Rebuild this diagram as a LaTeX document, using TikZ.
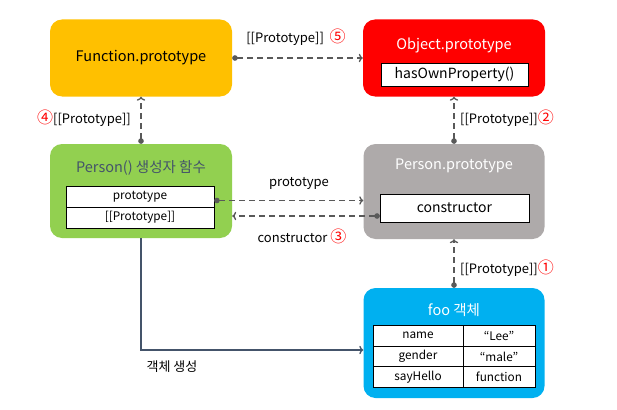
\documentclass[tikz,border=0pt]{standalone}
\usepackage{fontspec}
\setmainfont{Noto Sans CJK KR}
\usetikzlibrary{arrows.meta, positioning, calc}
\definecolor{pfyellow}{HTML}{FFC000}
\definecolor{pored}{HTML}{FF0000}
\definecolor{pgreen}{HTML}{92D050}
\definecolor{pgray}{HTML}{AEAAAA}
\definecolor{pblue}{HTML}{00B0F0}
\definecolor{pslate}{HTML}{44546A}
\definecolor{plink}{HTML}{595959}
\newcommand{\stepnum}[1]{\textcolor{pored}{\fontsize{16}{16}\selectfont #1}}

\begin{document}
\begin{tikzpicture}[
  x=1pt, y=-1pt,
  every node/.style={font=\fontsize{13}{15}\selectfont},
  objbox/.style={rectangle, rounded corners=12pt, minimum width=182pt, minimum height=77pt, inner sep=0pt},
  cellbox/.style={rectangle, draw=black, fill=white, inner sep=0pt, font=\fontsize{14}{16}\selectfont},
  tablecell/.style={cellbox, minimum height=21pt, font=\fontsize{11.8}{13}\selectfont},
  titletext/.style={font=\fontsize{14.5}{17}\selectfont},
  linklabel/.style={font=\fontsize{13}{15}\selectfont, text=black},
  dotlink/.style={draw=plink, line width=1.3pt, dash pattern=on 6pt off 4pt, {Circle[length=5.5pt, fill=plink]}-{To[length=4pt]}},
]
\useasboundingbox (0,0) rectangle (617,409);

% Top row
\node[objbox, fill=pfyellow] (func) at (141,58) {};
\node[titletext] (functitle) at (141,58) {Function.prototype};

\node[objbox, fill=pored] (obj) at (454,58) {};
\node[titletext, text=white] (objtitle) at (454,45) {Object.prototype};
\node[cellbox, minimum width=147pt, minimum height=23pt] (hasown) at (454.5,74.5) {hasOwnProperty()};

% Middle row
\node[objbox, fill=pgreen, minimum height=94pt] (person) at (141,191) {};
\node[titletext, text=pslate] (persontitle) at (141,168) {Person() 생성자 함수};
\node[tablecell, minimum width=148pt] (protorow) at (140,196.5) {prototype};
\node[tablecell, minimum width=148pt] (innerrow) at (140,217.5) {[[Prototype]]};

\node[objbox, fill=pgray, minimum width=181pt, minimum height=95pt] (pproto) at (454,191.5) {};
\node[titletext, text=white] (pprototitle) at (454,166) {Person.prototype};
\node[cellbox, minimum width=149pt, minimum height=28pt] (ctor) at (454.5,208) {constructor};

% Bottom: foo instance
\node[objbox, fill=pblue, minimum width=181pt, minimum height=110pt] (foo) at (454,343) {};
\node[titletext, text=white] (footitle) at (454,310) {foo 객체};
\foreach \key/\val/\y [count=\i] in {name/“Lee”/335.5, gender/“male”/356.5, sayHello/function/377} {
  \node[tablecell, minimum width=90pt] (key\i) at (418,\y) {\key};
  \node[tablecell, minimum width=72pt] (val\i) at (499,\y) {\val};
}

% [[Prototype]] links
\draw[dotlink] (func.east) -- (obj.west);
\node[linklabel] (lab5) at (296,37) {[[Prototype]]~~\stepnum{⑤}};

\draw[dotlink] (person.north) -- (func.south);
\node[linklabel] (lab4) at (84,118) {\stepnum{④}[[Prototype]]};

\draw[dotlink] (pproto.north) -- (obj.south);
\node[linklabel] (lab2) at (507,118) {[[Prototype]]\stepnum{②}};

\draw[dotlink] (foo.north) -- (pproto.south);
\node[linklabel] (lab1) at (507,268) {[[Prototype]]\stepnum{①}};

% prototype / constructor links
\draw[dotlink] ([yshift=-4pt]protorow.east) -- ([yshift=-4pt]protorow.east -| pproto.west);
\node[linklabel] (labproto) at (299,183) {prototype};

\draw[dotlink] ([yshift=-8pt]ctor.west) -- ([yshift=-8pt]ctor.west -| person.east);
\node[linklabel] (labctor) at (302,236) {constructor \stepnum{③}};

% instance creation
\draw[draw=pslate, line width=1.3pt, -{To[length=4pt]}] (person.south) |- ([yshift=-7pt]foo.west);
\node[linklabel] (labnew) at (172,367) {객체 생성};

\end{tikzpicture}
\end{document}
